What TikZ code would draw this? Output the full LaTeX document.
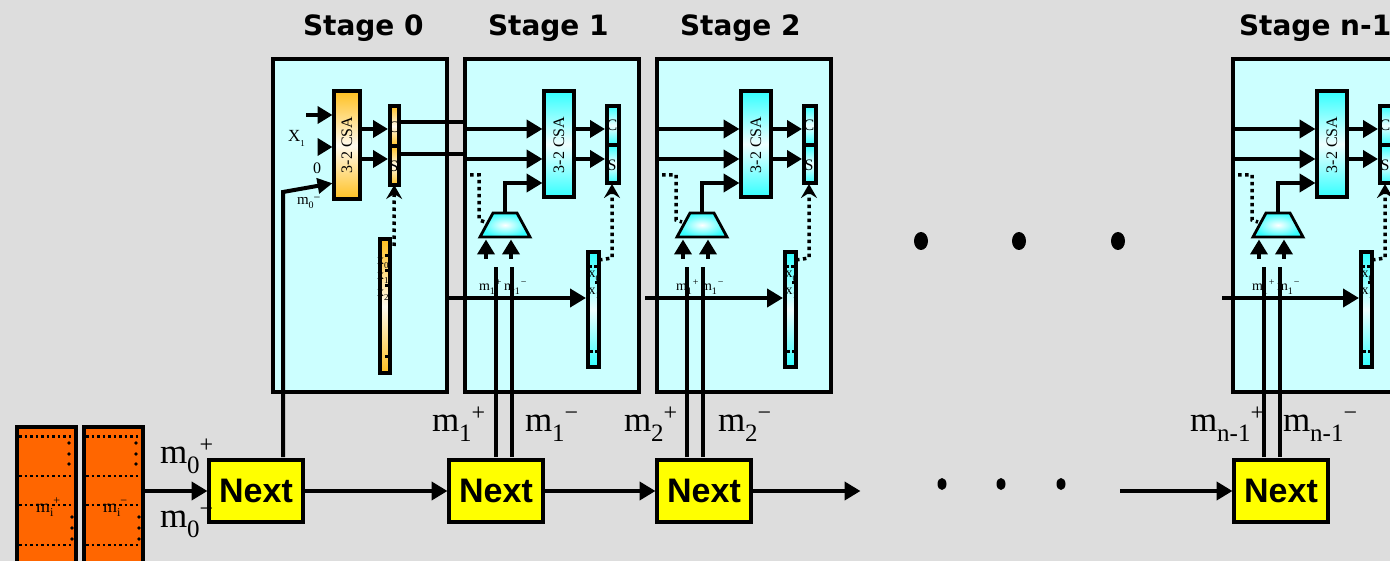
\documentclass[tikz,border=0pt]{standalone}
\usepackage{fontspec}
\usepackage{graphicx}
\setmainfont{Liberation Serif}
\newfontfamily\arialfont{Liberation Sans}
\newfontfamily\stagefont{DejaVu Sans}
\usetikzlibrary{arrows.meta,calc,shapes.geometric}
\definecolor{bgc}{HTML}{DDDDDD}
\definecolor{stagec}{HTML}{CCFFFF}
\definecolor{cyanc}{HTML}{33FFFF}
\definecolor{orangec}{HTML}{FFC020}
\definecolor{memc}{HTML}{FF6600}
\definecolor{yellowc}{HTML}{FFFF00}
\tikzset{
  boxb/.style={draw=black,line width=4pt,inner sep=0pt,outer sep=0pt,anchor=center},
  stagebox/.style={boxb,fill=stagec},
  cyangrad/.style={boxb,top color=cyanc,bottom color=cyanc,middle color=white!92!cyanc},
  orangegrad/.style={boxb,top color=orangec,bottom color=orangec,middle color=white!92!orangec},
  membox/.style={boxb,fill=memc},
  nextbox/.style={draw=black,line width=4pt,fill=yellowc,inner sep=0pt,outer sep=0pt,font=\arialfont\bfseries\fontsize{34}{34}\selectfont},
  wire/.style={line width=4pt,draw=black},
  arr/.style={wire,-{Triangle[length=16pt,width=18pt]},shorten >=1.5pt},
  sarr/.style={wire,-{Triangle[length=15pt,width=17pt]},shorten >=1.5pt},
  dotw/.style={line width=3.5pt,draw=black,dash pattern=on 3.5pt off 3.5pt},
  dotarr/.style={dotw,-{Stealth[length=14pt,width=16pt,inset=5pt]}},
  ddot/.style={line width=2.5pt,draw=black,dash pattern=on 2.5pt off 3pt},
  txt/.style={inner sep=0pt,outer sep=0pt,anchor=base west},
  stagelbl/.style={txt,font=\stagefont\bfseries\fontsize{28}{28}\selectfont},
  tiny/.style={txt,font=\fontsize{14}{14}\selectfont},
  regl/.style={inner sep=0pt,outer sep=0pt,anchor=center,font=\fontsize{16}{16}\selectfont},
  big/.style={txt,font=\fontsize{35}{35}\selectfont},
  bigdot/.style={fill=black,draw=none,ellipse,inner sep=0pt,outer sep=0pt},
}
% box by its edge centre lines
\newcommand{\bx}[6]{\node[#6,minimum width={(#4-#2)*1pt},minimum height={(#5-#3)*1pt}] (#1) at ({(#2+#4)/2},{(#3+#5)/2}) {};}
% big label m_sub^sup
\newcommand{\mlab}[2]{m\raisebox{-.3em}{\fontsize{25}{25}\selectfont #1}\raisebox{.3em}{\fontsize{24}{24}\selectfont #2}}
\newcommand{\slab}[2]{m\raisebox{-.25em}{\fontsize{10}{10}\selectfont #1}\raisebox{.42em}{\fontsize{10}{10}\selectfont\kern1pt #2}}
\newcommand{\xlab}[1]{x\raisebox{-.25em}{\fontsize{9}{9}\selectfont #1}}
% #1 prefix, #2 box left (line centre), #3 inner offset
\newcommand{\cyanstage}[3]{%
  \begin{scope}[name prefix=#1-]
    \bx{box}{#2}{59}{#2+174}{392}{stagebox}
  \end{scope}
  \begin{scope}[shift={(#3,0)},name prefix=#1-]
    \bx{csa}{544}{91}{574}{197}{cyangrad}
    \node[inner sep=0pt,font=\fontsize{16}{16}\selectfont] (csat) at (559,145) {\rotatebox{90}{3-2 CSA}};
    \bx{c}{606.5}{106}{618.5}{145}{cyangrad}
    \bx{s}{606.5}{145}{618.5}{183}{cyangrad}
    \bx{x}{587.5}{252.5}{599}{367}{cyangrad}
    \node[tiny] (x0) at (588.5,278) {\xlab{0}};
    \node[tiny] (x1) at (588.5,295) {\xlab{1}};
    \draw[wire,line width=2.8pt,inner color=white,outer color=cyanc]
      (493,213) coordinate (mt) -- (517,213) -- (530,237) -- (480,237) -- cycle;
    \coordinate (mtop) at (505,213);
    \coordinate (csain) at (csa.west |- 0,183);
    \draw[arr] (mtop) -- (505,183) -- (csain);
    \draw[sarr] (csa.east |- 0,129) -- (c.west |- 0,129);
    \draw[sarr] (csa.east |- 0,159) -- (s.west |- 0,159);
    \node[regl] (ct) at (612,125) {C};
    \node[regl] (st) at (612,165) {S};
    \coordinate (ia) at (486,259);
    \coordinate (ib) at (511,259);
    \draw[sarr] (ia) -- (486,238);
    \draw[sarr] (ib) -- (511,238);
    \draw[dotarr] (x.east |- 0,260) -- (612,258) -- (612,184);
    \foreach \dx/\dy in {590/267,595/267,596/283,591/352,596/352}{\fill (\dx,\dy) ++(-1.5,-1.5) rectangle ++(3,3);}
  \end{scope}
}
\begin{document}
\begin{tikzpicture}[x=1pt,y=-1pt]
\useasboundingbox (0,0) rectangle (1390,561);
\clip (0,0) rectangle (1390,561);
\fill[bgc] (0,0) rectangle (1390,561);

% titles
\node[stagelbl] (t0) at (303,36) {Stage 0};
\node[stagelbl] (t1) at (488,36) {Stage 1};
\node[stagelbl] (t2) at (680,36) {Stage 2};
\node[stagelbl] (t3) at (1239,36) {Stage n-1};

% stage 0
\bx{b0}{273}{59}{447}{392}{stagebox}
\bx{csa0}{334}{91}{360}{199.5}{orangegrad}
\node[inner sep=0pt,font=\fontsize{16}{16}\selectfont] (csa0t) at (347,145) {\rotatebox{90}{3-2 CSA}};
\bx{c0}{389.5}{106}{399}{146}{orangegrad}
\bx{s0}{389.5}{146}{399}{185}{orangegrad}
\bx{x0r}{379.5}{239.5}{390}{373}{orangegrad}
\node[tiny] (x00) at (377,265) {\xlab{0}};
\node[tiny] (x01) at (377,280) {\xlab{1}};
\node[tiny] (x02) at (377,297) {\xlab{2}};
\foreach \yy in {256,271,286,357}{\fill (386,\yy) ++(-1.5,-1.5) rectangle ++(3,3);}
\node[txt,font=\fontsize{17}{17}\selectfont] (x1l) at (288,142) {X\raisebox{-.25em}{\fontsize{9}{9}\selectfont 1}};
\node[txt,font=\fontsize{16}{16}\selectfont] (zero) at (313,174) {0};
\coordinate (a0) at (306,115);
\draw[sarr] (a0) -- (csa0.west |- a0);
\coordinate (a1) at (318,147);
\draw[sarr] (a1) -- (csa0.west |- a1);
\draw[sarr] (csa0.east |- 0,129) -- (c0.west |- 0,129);
\draw[sarr] (csa0.east |- 0,159) -- (s0.west |- 0,159);
\coordinate (x0d) at (394,246);
\draw[dotarr] (x0d) -- (s0.south);

% cyan stages
\cyanstage{s1}{465}{0}
\cyanstage{s2}{657}{197}
\cyanstage{s3}{1233}{773}

% wires stage 0 to stage 1
\draw[wire] (c0.east |- 0,122) -- (465,122);
\draw[wire] (s0.east |- 0,154) -- (465,154);
\node[regl] (c0t) at (394,127) {C};
\node[regl] (s0t) at (394,166) {S};
% stage-entry wires
\foreach \st/\xl in {s1/463,s2/655,s3/1231}{
  \draw[arr] (\xl,129) -- (\st-csa.west |- 0,129);
  \draw[arr] (\xl,159) -- (\st-csa.west |- 0,159);
}
\draw[dotw] (463,175) -- (479,175) -- (479,220) -- (485,222);
\draw[dotw] (655,175) -- (676,175) -- (676,220) -- (682,222);
\draw[dotw] (1231,175) -- (1252,175) -- (1252,220) -- (1258,222);

% X-bus arrows
\draw[arr] (449,298) -- (s1-x.west |- 0,298);
\draw[arr] (645,298) -- (s2-x.west |- 0,298);
\draw[arr] (1222,298) -- (s3-x.west |- 0,298);

% dots
\node[bigdot,minimum width=14pt,minimum height=18pt] (d1) at (921,241) {};
\node[bigdot,minimum width=14pt,minimum height=18pt] (d2) at (1019,241) {};
\node[bigdot,minimum width=14pt,minimum height=18pt] (d3) at (1118,241) {};
\node[bigdot,minimum width=9pt,minimum height=12pt] (e1) at (942,484) {};
\node[bigdot,minimum width=9pt,minimum height=12pt] (e2) at (1001,484) {};
\node[bigdot,minimum width=9pt,minimum height=12pt] (e3) at (1061,484) {};

% memories
\bx{ma}{17}{427}{76}{575}{membox}
\bx{mb}{84}{427}{143}{575}{membox}
\foreach \bxn/\xa/\xb in {ma/17/76,mb/84/143}{
  \foreach \yy in {436.5,476,505,545}{\draw[ddot] (\xa+2,\yy) -- (\xb-1,\yy);}
}
\foreach \xx in {69,136}{\foreach \yy in {443,454,464}{\fill (\xx,\yy) circle (1.8);}}
\foreach \xx in {72,139}{\foreach \yy in {517,528,539}{\fill (\xx,\yy) circle (1.8);}}
\node[txt,font=\fontsize{18}{18}\selectfont] (mal) at (36,512) {m\raisebox{-.25em}{\fontsize{12}{12}\selectfont i}\raisebox{.42em}{\fontsize{12}{12}\selectfont +}};
\node[txt,font=\fontsize{18}{18}\selectfont] (mbl) at (103,512) {m\raisebox{-.25em}{\fontsize{12}{12}\selectfont i}\raisebox{.42em}{\fontsize{12}{12}\selectfont −}};

% next boxes
\node[nextbox,minimum width=94pt,minimum height=62pt] (n0) at (256,491) {Next};
\node[nextbox,minimum width=94pt,minimum height=62pt] (n1) at (496,491) {Next};
\node[nextbox,minimum width=94pt,minimum height=62pt] (n2) at (704,491) {Next};
\node[nextbox,minimum width=94pt,minimum height=62pt] (n3) at (1281,491) {Next};
\coordinate (en) at (862,491);
\coordinate (gs) at (1120,491);
\draw[arr] (mb.east |- n0.west) -- (n0.west);
\draw[arr] (n0.east) -- (n1.west);
\draw[arr] (n1.east) -- (n2.west);
\draw[arr] (n2.east) -- (en);
\draw[arr] (gs) -- (n3.west);

% m lines
\coordinate (m0up) at (283,192);
\draw[wire,-{Triangle[length=15pt,width=15pt]},shorten >=1.5pt] (283,457) -- (m0up) -- (csa0.west |- 0,183);
\foreach \nn/\xa/\xb/\yt in {n1/496/512/267,n2/687/703/267,n3/1264/1280/267}{
  \draw[wire] (\xa,457) -- (\xa,\yt);
  \draw[wire] (\xb,457) -- (\xb,\yt);
}

% small m labels
\node[txt,font=\fontsize{15}{15}\selectfont] (m0s) at (297,205) {m\raisebox{-.25em}{\fontsize{10}{10}\selectfont 0}\raisebox{.2em}{\fontsize{12}{12}\selectfont −}};
\node[tiny] (ml1) at (479,291) {\slab{1}{+}};
\node[tiny] (mr1) at (504,291) {\slab{1}{−}};
\node[tiny] (ml2) at (676,291) {\slab{1}{+}};
\node[tiny] (mr2) at (701,291) {\slab{1}{−}};
\node[tiny] (ml3) at (1252,291) {\slab{1}{+}};
\node[tiny] (mr3) at (1277,291) {\slab{1}{−}};

% big labels
\node[big] (l0p) at (160,463) {\mlab{0}{+}};
\node[big] (l0m) at (160,527) {\mlab{0}{−}};
\node[big] (l1p) at (432,431) {\mlab{1}{+}};
\node[big] (l1m) at (525,431) {\mlab{1}{−}};
\node[big] (l2p) at (624,431) {\mlab{2}{+}};
\node[big] (l2m) at (718,431) {\mlab{2}{−}};
\node[big] (l3p) at (1190,431) {\mlab{n-1}{+}};
\node[big] (l3m) at (1283,431) {\mlab{n-1}{−}};
\end{tikzpicture}
\end{document}
